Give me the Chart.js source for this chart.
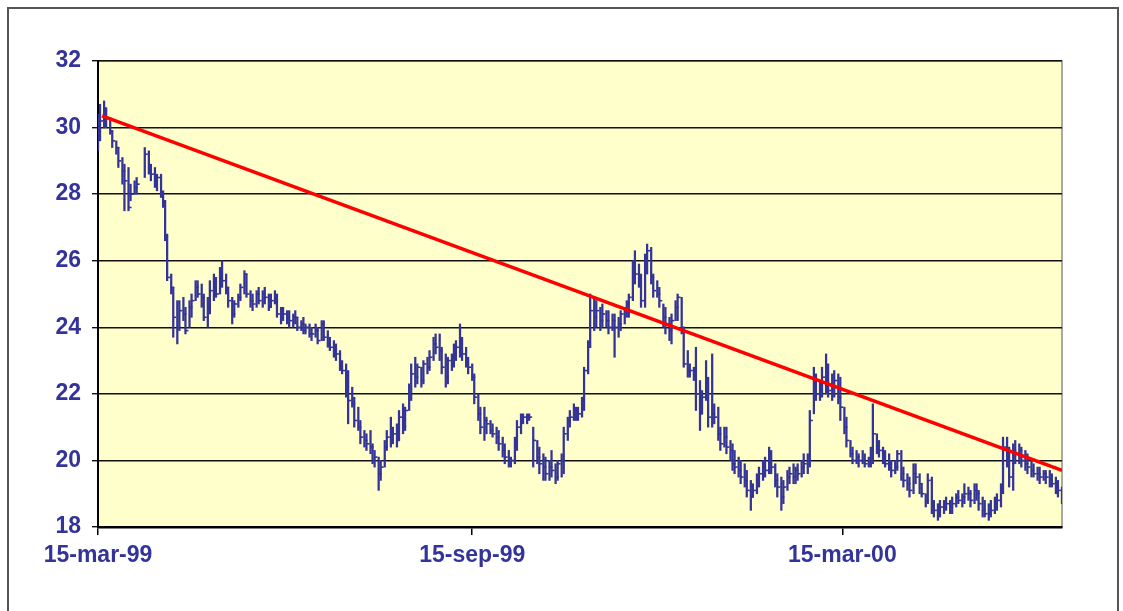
<!DOCTYPE html>
<html>
<head>
<meta charset="utf-8">
<script src="https://cdn.jsdelivr.net/npm/chart.js@4"></script>
<style>
  html, body { margin: 0; padding: 0; background: #fff; overflow: hidden; }
  #wrap { position: relative; width: 1123px; height: 611px; }
  #frame { position: absolute; left: 7px; top: 7px; width: 1108px; height: 640px; border: 2px solid #555; }
  canvas { position: absolute; left: 0; top: 0; }
</style>
</head>
<body>
<div id="wrap">
  <div id="frame"></div>
  <canvas id="chart" width="1123" height="611"></canvas>
</div>
<script>
// days since 15-mar-99, daily high / low / close
const days = [
  0,1,3,4,6,7,9,10,12,13,
  15,16,18,19,23,25,26,28,29,31,
  32,33,34,36,37,39,40,42,43,45,
  46,48,49,51,52,54,55,57,58,60,
  61,63,64,66,67,69,70,72,73,75,
  76,78,79,81,82,84,85,87,88,90,
  91,93,94,96,97,98,100,101,102,104,
  105,107,108,110,111,113,114,116,117,119,
  120,122,123,125,126,128,129,131,132,134,
  135,136,138,139,141,142,144,145,147,148,
  150,151,153,154,156,157,159,160,162,163,
  165,166,168,169,171,172,174,175,176,178,
  179,181,182,184,185,187,188,190,191,193,
  194,196,197,199,200,202,203,205,206,208,
  209,211,212,214,216,217,219,220,222,223,
  225,226,228,229,231,232,234,235,236,238,
  239,241,242,244,245,247,248,250,251,253,
  254,256,257,259,260,261,263,264,266,267,
  269,270,272,273,275,276,278,279,281,282,
  284,285,287,288,290,291,293,294,296,297,
  299,300,302,303,305,306,308,309,311,312,
  313,315,316,318,319,321,322,324,325,327,
  328,330,331,333,334,336,337,339,340,342,
  343,344,346,347,349,350,352,353,355,356,
  358,359,361,362,364,365,367,368,370,371,
  373,374,376,377,379,380,381,383,384,386,
  387,389,390,392,393,395,396,398,399,401,
  402,404,405,407,408,410,411,413,414,416,
  417,419,420,422,423,425,426,428,429,431,
  432,433,435,436,438,439,441,442,444,445,
  447,448,450,451,453,454,456,457,459,460,
  462,463,465,466,468,469,471,472,474
];
const highs = [
  30.4,30.7,30.8,30.6,30.3,29.9,29.6,29.4,29.1,28.9,
  28.8,28.3,28.4,28.5,29.4,29.3,28.9,28.8,28.6,28.6,
  28.1,27.8,26.8,25.6,25.2,24.8,24.8,24.9,24.6,24.8,
  25.0,25.4,25.4,25.3,25.0,24.9,25.4,25.6,25.5,25.8,
  26.0,25.6,25.2,24.9,24.8,25.0,25.3,25.7,25.6,25.1,
  25.0,25.1,25.2,25.1,25.2,25.0,25.0,25.1,25.0,24.6,
  24.6,24.5,24.5,24.4,24.5,24.3,24.2,24.3,24.1,24.1,
  24.0,24.1,24.0,24.2,24.2,23.9,23.7,23.6,23.5,23.3,
  23.0,22.9,22.7,22.2,21.9,21.6,21.2,20.9,20.8,20.9,
  20.5,20.3,20.1,20.0,20.6,20.9,21.3,21.0,21.1,21.5,
  21.7,21.6,22.3,22.9,23.1,22.9,22.8,23.0,23.1,23.3,
  23.7,23.8,23.8,23.4,23.2,23.1,23.2,23.5,23.6,24.1,
  23.7,23.4,23.1,22.9,22.6,22.0,21.6,21.6,21.3,21.2,
  21.1,21.0,20.9,20.7,20.5,20.3,20.1,20.7,21.2,21.4,
  21.4,21.4,21.4,21.0,20.6,20.4,20.2,20.1,20.0,20.3,
  19.9,20.0,20.2,21.0,21.3,21.5,21.7,21.6,21.6,21.9,
  22.8,23.6,25.0,24.9,24.8,24.6,24.7,24.5,24.5,24.4,
  24.4,24.3,24.5,24.6,24.8,25.0,26.0,26.3,25.9,25.6,
  26.2,26.5,26.4,25.6,25.4,25.2,24.7,24.6,24.3,24.4,
  24.8,25.0,24.9,24.0,23.3,22.9,22.8,23.4,22.4,22.1,
  23.0,22.5,23.2,21.7,21.6,21.0,21.0,21.0,20.6,20.5,
  20.3,20.1,20.0,19.9,19.7,19.4,19.3,19.6,19.8,20.0,
  20.1,20.4,20.3,19.9,19.6,19.5,19.4,19.7,19.8,19.9,
  19.8,19.9,20.0,20.2,20.2,21.5,22.8,22.6,22.4,22.8,
  23.2,22.9,22.6,22.7,22.6,22.5,21.6,21.3,20.6,20.4,
  20.3,20.2,20.3,20.2,20.1,20.4,21.7,20.8,20.6,20.4,
  20.3,20.2,20.0,20.0,20.3,20.3,19.8,19.6,19.5,19.9,
  19.9,19.6,19.3,19.0,19.6,19.5,18.8,18.7,18.8,18.8,
  18.9,18.8,18.9,19.0,19.1,19.0,19.3,19.2,19.1,19.3,
  19.3,19.1,18.9,18.8,18.7,18.8,18.9,19.0,19.3,20.7,
  20.7,20.4,20.5,20.6,20.5,20.4,20.3,20.2,20.0,19.9,
  19.8,19.8,19.7,19.7,19.7,19.6,19.5,19.4,19.2
];
const lows = [
  29.3,29.6,30.0,30.0,29.8,29.4,29.2,28.8,28.3,27.5,
  27.5,27.8,28.0,28.0,28.5,28.6,28.4,28.2,28.1,27.9,
  27.6,26.6,25.4,25.0,23.7,23.5,23.9,24.2,23.8,24.0,
  24.3,24.8,24.9,24.6,24.2,24.0,24.4,24.8,24.9,25.0,
  25.2,25.0,24.6,24.1,24.3,24.6,24.8,25.0,24.9,24.6,
  24.5,24.6,24.7,24.6,24.7,24.5,24.6,24.7,24.3,24.1,
  24.2,24.1,24.0,24.0,24.1,23.9,23.9,23.8,23.8,23.7,
  23.6,23.7,23.5,23.6,23.6,23.4,23.3,23.1,23.0,22.7,
  22.6,21.9,21.1,21.6,21.0,20.9,20.5,20.4,20.3,20.2,
  19.9,19.8,19.1,19.4,19.8,20.3,20.4,20.5,20.4,20.6,
  20.8,20.9,21.5,21.8,22.2,22.3,22.2,22.3,22.6,22.7,
  23.0,23.2,23.0,22.6,22.2,22.3,22.7,22.8,23.0,23.1,
  23.0,22.8,22.6,22.4,21.7,21.2,20.8,20.6,20.8,20.8,
  20.7,20.5,20.3,20.1,19.9,19.8,19.8,19.9,20.3,20.8,
  21.1,21.1,21.2,19.8,19.9,19.6,19.4,19.4,19.4,19.5,
  19.3,19.4,19.5,19.6,20.6,21.0,21.2,21.2,21.2,21.3,
  21.5,22.6,23.4,23.9,24.0,23.9,24.0,24.0,23.8,23.9,
  23.1,23.7,23.9,24.1,24.3,24.3,24.8,25.3,25.2,24.6,
  24.6,25.6,25.3,24.9,24.9,24.6,24.0,23.8,23.6,23.5,
  24.2,24.2,23.8,22.8,22.5,22.5,22.4,21.5,20.9,21.4,
  21.8,21.0,21.0,21.1,20.6,20.3,20.4,20.2,20.0,19.7,
  19.6,19.5,19.3,19.2,18.9,18.5,18.9,19.0,19.2,19.4,
  19.5,19.6,19.6,19.2,18.9,18.5,18.7,19.1,19.3,19.3,
  19.3,19.4,19.5,19.6,19.6,19.8,21.4,21.8,21.8,21.9,
  22.0,21.9,21.8,21.9,21.7,21.2,20.8,20.4,20.1,19.9,
  19.9,19.8,19.9,19.8,19.8,19.8,19.9,20.2,20.1,19.9,
  19.8,19.7,19.5,19.6,19.7,19.4,19.2,19.1,18.9,19.0,
  19.3,19.0,18.9,18.6,18.7,18.4,18.3,18.2,18.3,18.4,
  18.5,18.4,18.4,18.6,18.7,18.6,18.7,18.8,18.6,18.7,
  18.8,18.5,18.3,18.3,18.2,18.3,18.4,18.5,18.6,19.0,
  19.8,19.2,19.1,19.9,19.9,19.8,19.7,19.6,19.5,19.5,
  19.4,19.3,19.4,19.3,19.2,19.2,19.0,18.9,18.7
];
const closes = [
  29.9,30.2,30.5,30.3,29.9,29.6,29.4,29.0,28.7,28.4,
  27.6,28.0,28.2,28.3,29.2,28.8,28.6,28.4,28.5,28.0,
  27.8,26.7,25.5,25.2,24.3,24.0,24.5,24.4,23.9,24.6,
  24.8,25.2,25.0,24.9,24.3,24.6,25.1,25.4,25.0,25.5,
  25.4,25.2,24.8,24.4,24.7,24.9,25.2,25.6,25.0,24.8,
  24.7,25.0,24.8,25.0,24.9,24.6,24.8,24.9,24.4,24.3,
  24.4,24.3,24.2,24.3,24.3,24.0,24.1,23.9,24.0,23.8,
  23.8,23.9,23.6,24.1,23.7,23.5,23.4,23.3,23.2,22.8,
  22.7,22.0,21.8,21.7,21.2,21.0,20.7,20.6,20.5,20.4,
  20.0,20.1,19.6,19.8,20.4,20.7,20.6,20.8,20.6,21.3,
  21.0,21.5,22.0,22.6,22.5,22.8,22.4,22.9,22.8,23.1,
  23.5,23.4,23.3,22.8,22.5,23.0,23.1,23.3,23.4,23.3,
  23.2,22.9,22.8,22.5,21.9,21.4,21.0,21.2,21.1,20.9,
  20.8,20.7,20.5,20.3,20.1,19.9,20.0,20.5,21.0,21.3,
  21.3,21.3,21.3,20.6,20.1,19.9,19.8,19.6,19.8,19.7,
  19.5,19.9,20.0,20.8,21.2,21.3,21.5,21.4,21.4,21.6,
  22.7,23.4,24.5,24.3,24.5,24.2,24.4,24.2,24.0,24.2,
  24.0,24.1,24.4,24.5,24.7,24.9,25.8,25.6,25.4,24.8,
  26.0,26.3,25.5,25.1,25.0,24.8,24.3,24.1,23.9,24.2,
  24.6,24.9,24.0,22.9,22.7,22.7,22.6,22.0,21.4,21.9,
  22.1,21.3,21.4,21.3,20.8,20.5,20.7,20.4,20.3,19.9,
  19.8,19.7,19.5,19.4,19.1,18.9,19.1,19.4,19.6,19.8,
  19.7,20.0,19.8,19.4,19.2,18.9,19.2,19.5,19.6,19.5,
  19.7,19.6,19.8,19.9,20.0,21.2,22.3,22.0,22.2,22.5,
  22.3,22.1,22.0,22.4,21.9,21.6,21.0,20.6,20.2,20.0,
  20.1,20.0,20.0,19.9,20.0,20.0,20.8,20.5,20.3,20.1,
  19.9,19.9,19.7,19.8,20.2,19.6,19.4,19.3,19.1,19.6,
  19.5,19.3,19.0,18.8,19.4,18.6,18.5,18.4,18.6,18.6,
  18.7,18.6,18.7,18.9,18.8,18.9,19.0,19.0,18.8,19.1,
  19.0,18.7,18.5,18.4,18.4,18.5,18.7,18.8,19.1,20.4,
  20.2,19.5,20.3,20.2,20.3,20.0,19.9,19.8,19.7,19.6,
  19.6,19.5,19.6,19.5,19.4,19.3,19.2,19.1,18.9
];

// linear trend line end points
const trendDays = [2, 474];
const trendValues = [30.35, 19.7];

// x axis ticks
const tickDays = [0, 184, 366];
const tickLabels = ['15-mar-99', '15-sep-99', '15-mar-00'];

const navy = '#333399';
const labelFont = { family: "Arial, 'Liberation Sans', sans-serif", weight: 'bold', size: 23 };

const plotBackground = {
  id: 'plotBackground',
  beforeDraw(chart) {
    const { ctx, chartArea: a } = chart;
    ctx.save();
    ctx.fillStyle = '#FFFFCC';
    ctx.fillRect(a.left, a.top, a.right - a.left, a.bottom - a.top);
    ctx.strokeStyle = '#8c8c8c';
    ctx.lineWidth = 1.5;
    ctx.strokeRect(a.left, a.top, a.right - a.left, a.bottom - a.top);
    ctx.restore();
  }
};

new Chart(document.getElementById('chart'), {
  type: 'bar',
  data: {
    datasets: [
      {
        type: 'line',
        label: 'Trend',
        data: trendDays.map((d, i) => ({ x: d, y: trendValues[i] })),
        borderColor: '#FF0000',
        borderWidth: 3.5,
        pointRadius: 0,
        order: 0
      },
      {
        type: 'line',
        label: 'Close',
        data: days.map((d, i) => ({ x: d, y: closes[i] })),
        showLine: false,
        pointStyle: 'dash',
        pointRadius: 3,
        pointBorderColor: navy,
        pointBorderWidth: 1.6,
        order: 1
      },
      {
        type: 'bar',
        label: 'High-Low',
        data: days.map((d, i) => ({ x: d, y: [lows[i], highs[i]] })),
        backgroundColor: navy,
        barThickness: 1.6,
        order: 2
      }
    ]
  },
  options: {
    responsive: false,
    animation: false,
    events: [],
    layout: { padding: { top: 61, right: 61, left: 0, bottom: 0 } },
    plugins: { legend: { display: false }, tooltip: { enabled: false } },
    scales: {
      x: {
        type: 'linear',
        min: 0,
        max: 474,
        offset: false,
        afterBuildTicks: s => { s.ticks = tickDays.map(v => ({ value: v })); },
        afterFit: s => { s.height = 84; },
        ticks: {
          callback: (v, i) => tickLabels[i],
          color: navy,
          font: labelFont,
          padding: 7,
          maxRotation: 0,
          autoSkip: false
        },
        grid: { drawOnChartArea: false, drawTicks: true, tickLength: 8, color: '#000', lineWidth: 1.5, offset: false },
        border: { color: '#000', width: 2.5 }
      },
      y: {
        min: 18,
        max: 32,
        afterFit: s => { s.width = 98; },
        ticks: { stepSize: 2, color: navy, font: labelFont, padding: 11 },
        grid: { color: '#111', lineWidth: 1.4, tickLength: 6 },
        border: { color: '#000', width: 2 }
      }
    }
  },
  plugins: [plotBackground]
});
</script>
</body>
</html>
